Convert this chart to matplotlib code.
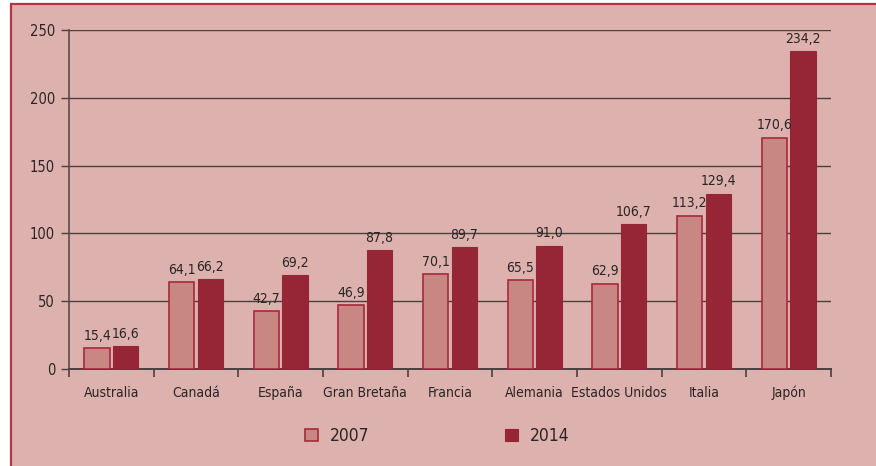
import matplotlib
matplotlib.use('Agg')
import matplotlib.pyplot as plt
import numpy as np
from matplotlib.patches import Rectangle

plt.rcParams['font.family'] = ['DejaVu Sans']
plt.rcParams['font.stretch'] = 'condensed'

# Data
paises = ['Australia', 'Canadá', 'España', 'Gran Bretaña', 'Francia',
          'Alemania', 'Estados Unidos', 'Italia', 'Japón']
v2007 = [15.4, 64.1, 42.7, 46.9, 70.1, 65.5, 62.9, 113.2, 170.6]
v2014 = [16.6, 66.2, 69.2, 87.8, 89.7, 91.0, 106.7, 129.4, 234.2]
etiquetas_2007 = ['15,4', '64,1', '42,7', '46,9', '70,1', '65,5', '62,9', '113,2', '170,6']
etiquetas_2014 = ['16,6', '66,2', '69,2', '87,8', '89,7', '91,0', '106,7', '129,4', '234,2']
yticks = [0, 50, 100, 150, 200, 250]

bg = '#DDB1AD'
c07 = '#C98783'
c14 = '#962636'
edge = '#A8293A'
txt = '#2b2525'
grid_c = '#4a3f3f'

fig = plt.figure(figsize=(8.76, 4.66), dpi=100, facecolor='white')
# framed background panel
fig.patches.append(Rectangle((10.5/876, -0.01), 1.1, 1 - 3.5/466 + 0.01,
                             transform=fig.transFigure, facecolor=bg,
                             edgecolor='#B03548', linewidth=1.6, zorder=-1))

ax = fig.add_axes([69/876, 1 - 369/466, (831 - 69)/876, (369 - 30)/466])
ax.set_facecolor('none')

x = np.arange(len(paises))
w = 0.3
off = 0.168
b1 = ax.bar(x - off, v2007, w, color=c07, edgecolor=edge, linewidth=1.2, zorder=3, label='2007')
b2 = ax.bar(x + off, v2014, w, color=c14, edgecolor=c14, linewidth=0.8, zorder=3, label='2014')

for i in range(len(paises)):
    ax.text(x[i] - off, v2007[i] + 4, etiquetas_2007[i], ha='center', va='bottom',
            fontsize=10, color=txt)
    ax.text(x[i] + off, v2014[i] + 4, etiquetas_2014[i], ha='center', va='bottom',
            fontsize=10, color=txt)

ax.set_xlim(-0.5, len(paises) - 0.5)
ax.set_ylim(0, 250)
ax.set_yticks(yticks)
ax.set_yticklabels([str(t) for t in yticks], fontsize=10.5, color=txt)
ax.yaxis.grid(True, color=grid_c, linewidth=1.0, zorder=0)
ax.set_axisbelow(True)

ax.set_xticks(x)
ax.set_xticklabels(paises, fontsize=10, color=txt)
ax.set_xticks(np.arange(-0.5, len(paises), 1), minor=True)
ax.tick_params(axis='x', which='major', length=0, pad=12)
ax.tick_params(axis='x', which='minor', length=6, width=1.2, color=grid_c)
ax.tick_params(axis='y', length=6, width=1.0, color=grid_c, pad=4)

for s in ['top', 'right']:
    ax.spines[s].set_visible(False)
ax.spines['left'].set_color('#5a4b4b')
ax.spines['left'].set_linewidth(1.2)
ax.spines['bottom'].set_color(grid_c)
ax.spines['bottom'].set_linewidth(1.4)

fig.legend(handles=[b1, b2], labels=['2007', '2014'], loc='center',
           bbox_to_anchor=(0.499, 1 - 436/466), ncol=2, frameon=False,
           fontsize=12.5, handlelength=0.75, handleheight=0.75,
           handletextpad=0.7, columnspacing=7.8, labelcolor=txt)

fig.savefig('out.png', dpi=100, facecolor='white')
